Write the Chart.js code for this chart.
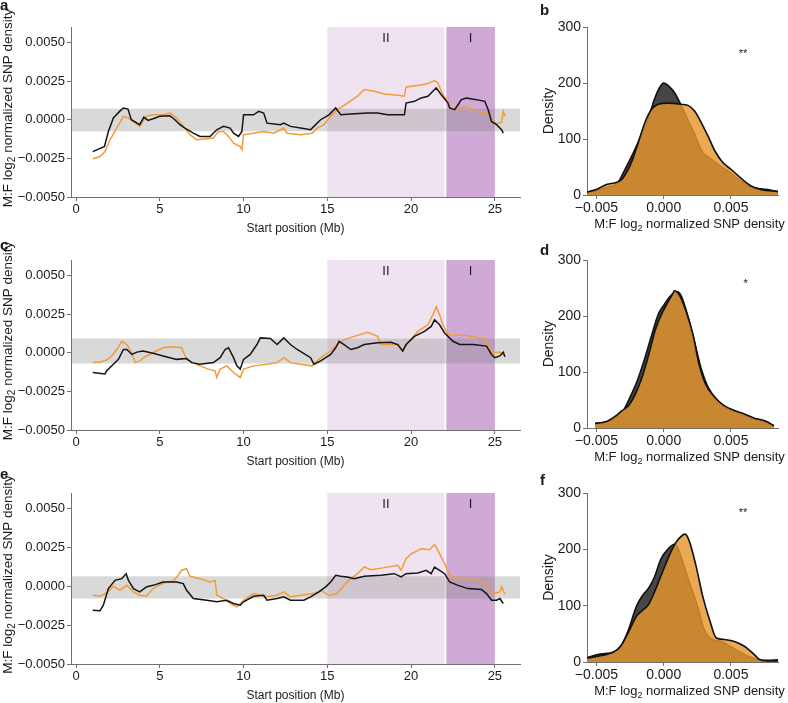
<!DOCTYPE html>
<html>
<head>
<meta charset="utf-8">
<script src="https://cdn.jsdelivr.net/npm/chart.js@4.4.1/dist/chart.umd.min.js"></script>
<style>
  body { margin: 0; background: #fff; width: 788px; height: 703px; position: relative; overflow: hidden; }
  canvas { position: absolute; }
</style>
</head>
<body>
<canvas id="chartA" width="530" height="236" style="left:0;top:0"></canvas>
<canvas id="chartC" width="530" height="236" style="left:0;top:233px"></canvas>
<canvas id="chartE" width="530" height="237" style="left:0;top:466px"></canvas>
<canvas id="chartB" width="258" height="236" style="left:530px;top:0"></canvas>
<canvas id="chartD" width="258" height="236" style="left:530px;top:233px"></canvas>
<canvas id="chartF" width="258" height="237" style="left:530px;top:466px"></canvas>
<script>
// ---- données ----
const xTicksTrack = [0, 5, 10, 15, 20, 25];
const yTicksTrack = [-0.005, -0.0025, 0, 0.0025, 0.005];
const xTicksDens = [-0.005, 0, 0.005];
const yTicksDens = [0, 100, 200, 300];

const regionStart = [15, 22.1];
const regionEnd = [22, 25];
const regionName = ['II', 'I'];

const bandA = [-0.00075, 0.00071];
const bandC = [-0.0007, 0.00092];
const bandE = [-0.00079, 0.00064];

// [début (Mb), log2 M:F]
const blackA = [[1.0,-0.00206],[1.7,-0.00173],[1.93,-0.00076],[2.23,0.00011],[2.6,0.00054],[2.83,0.00076],[3.1,0.00069],[3.3,0],[3.8,-0.00032],[4.05,0.00017],[4.3,-0.00004],[4.6,0.00006],[5.0,0.00022],[5.6,0.00026],[5.9,0],[6.2,-0.00032],[6.5,-0.00054],[7.0,-0.00087],[7.4,-0.00108],[8.0,-0.00108],[8.4,-0.00065],[8.8,-0.00043],[9.2,-0.00054],[9.4,-0.00087],[9.7,-0.00108],[9.9,-0.00076],[10.0,0.00032],[10.6,0.00032],[10.9,0.00054],[11.2,0.00043],[11.4,-0.00022],[12.2,-0.00032],[12.4,-0.00022],[12.8,-0.00043],[13.4,-0.00054],[14.0,-0.00065],[14.2,-0.00043],[14.6,0],[15.1,0.00032],[15.5,0.00076],[15.8,0.00032],[16.4,0.00037],[17.4,0.00043],[18.0,0.00043],[18.6,0.00032],[19.6,0.00032],[19.7,0.00108],[20.2,0.00119],[20.6,0.00141],[21.0,0.00152],[21.3,0.00184],[21.5,0.00206],[21.8,0.00162],[22.2,0.00108],[22.3,0.00076],[22.6,0.00065],[22.8,0.00097],[23.0,0.0013],[23.3,0.00141],[23.9,0.0013],[24.4,0.00119],[24.6,0.00065],[24.8,-0.00011],[25.1,-0.00032],[25.4,-0.00065],[25.5,-0.00087]];
const orangeA = [[1.0,-0.00253],[1.43,-0.00238],[1.73,-0.00206],[2.03,-0.0013],[2.43,-0.00054],[2.83,0.00022],[3.13,0.00011],[3.43,-0.00011],[3.8,-0.00043],[4.2,0.00022],[4.6,0.00032],[5.2,0.00032],[5.6,0.00043],[6.0,0.00011],[6.4,-0.00043],[6.8,-0.00097],[7.2,-0.0013],[8.2,-0.00119],[8.5,-0.00076],[8.8,-0.00076],[9.1,-0.00108],[9.4,-0.00152],[9.8,-0.00173],[9.9,-0.00195],[10.0,-0.00097],[10.6,-0.00087],[11.2,-0.00076],[11.8,-0.00087],[12.4,-0.00054],[12.6,-0.00087],[13.4,-0.00097],[14.1,-0.00087],[14.4,-0.00054],[14.8,-0.00032],[15.2,0.00022],[15.6,0.00065],[16.2,0.00108],[16.8,0.00152],[17.2,0.00195],[17.8,0.00184],[18.4,0.00167],[19.2,0.00158],[19.6,0.00152],[19.7,0.00212],[20.4,0.00221],[21.0,0.00234],[21.4,0.00253],[21.6,0.00238],[21.9,0.00162],[22.2,0.00119],[22.4,0.00065],[23.0,0.00076],[23.3,0.00082],[23.9,0.00054],[24.6,0.00043],[24.8,0],[25.1,-0.00026],[25.4,-0.00017],[25.5,0.00054],[25.6,0.00022]];

const blackC = [[1.0,-0.00128],[1.73,-0.00138],[1.83,-0.00117],[2.23,-0.00074],[2.53,-0.00043],[2.83,0.00021],[3.03,0.00021],[3.33,-0.00011],[3.63,0.00004],[4.0,0.00011],[4.6,-0.00004],[5.2,-0.00021],[6.0,-0.00043],[6.6,-0.00038],[6.9,-0.00064],[7.4,-0.00074],[8.2,-0.00064],[8.6,-0.00032],[8.9,0.00021],[9.1,0.00032],[9.4,-0.00032],[9.6,-0.00085],[9.8,-0.00106],[10.0,-0.00043],[10.4,-0.00011],[10.8,0.00053],[11.0,0.00096],[11.6,0.00092],[12.0,0.00053],[12.4,0.00096],[12.8,0.00053],[13.2,0.00021],[14.0,-0.00032],[14.2,-0.00074],[14.6,-0.00053],[15.2,-0.00011],[15.5,0.00032],[15.7,0.00074],[16.0,0.00053],[16.4,0.00021],[16.8,0.00032],[17.2,0.00053],[18.0,0.00064],[18.8,0.00068],[19.2,0.00053],[19.5,0.00011],[19.7,0.00053],[20.2,0.00106],[20.8,0.00138],[21.2,0.0017],[21.4,0.00213],[21.7,0.00181],[22.0,0.00128],[22.5,0.00074],[22.9,0.00053],[23.7,0.00053],[24.5,0.00043],[24.8,-0.00011],[25.0,-0.00032],[25.3,-0.00021],[25.5,0.00004],[25.6,-0.00026]];
const orangeC = [[1.0,-0.00064],[1.43,-0.0006],[1.83,-0.00047],[2.13,-0.00021],[2.43,0.00021],[2.73,0.00074],[3.03,0.00053],[3.33,0],[3.53,-0.00064],[3.8,-0.00053],[4.2,-0.00021],[4.6,0],[5.2,0.00032],[5.8,0.00038],[6.3,0.00032],[6.6,-0.00043],[7.0,-0.00064],[7.4,-0.00085],[7.9,-0.00106],[8.3,-0.00117],[8.4,-0.0016],[8.6,-0.00106],[9.0,-0.00085],[9.4,-0.00128],[9.8,-0.0016],[10.0,-0.00106],[10.6,-0.00085],[11.4,-0.00074],[12.0,-0.00064],[12.4,-0.00032],[12.8,-0.00064],[13.4,-0.00074],[14.1,-0.00085],[14.6,-0.00032],[15.2,0.00011],[15.6,0.00053],[16.0,0.00085],[16.6,0.00106],[17.4,0.00132],[18.0,0.00106],[18.2,0.00053],[19.2,0.00053],[19.5,0.00011],[19.8,0.00064],[20.4,0.00138],[21.0,0.00181],[21.3,0.00245],[21.5,0.00298],[21.7,0.00245],[21.9,0.00181],[22.2,0.00117],[23.3,0.00111],[24.1,0.00096],[24.5,0.00085],[24.7,0.00021],[24.9,0],[25.3,0.00004],[25.6,-0.00021]];

const blackE = [[1.0,-0.00154],[1.43,-0.00158],[1.63,-0.00122],[1.93,-0.00015],[2.33,0.00038],[2.73,0.00049],[2.99,0.00081],[3.13,0.00038],[3.43,-0.00015],[3.8,-0.00036],[4.2,-0.00004],[4.6,0.00006],[5.2,0.00028],[6.0,0.00028],[6.4,0.00017],[6.6,-0.00026],[7.0,-0.00079],[7.8,-0.0009],[8.4,-0.001],[9.0,-0.0009],[9.4,-0.00111],[9.8,-0.00122],[10.0,-0.001],[10.6,-0.00064],[11.2,-0.00058],[11.4,-0.0009],[12.0,-0.00079],[12.4,-0.00068],[12.8,-0.0009],[13.6,-0.0009],[14.0,-0.00068],[14.5,-0.00036],[14.9,-0.00004],[15.2,0.00028],[15.5,0.00071],[15.8,0.00064],[16.2,0.0006],[16.6,0.00049],[17.2,0.00064],[18.2,0.00071],[19.0,0.00081],[19.4,0.0006],[19.7,0.00081],[20.4,0.00085],[20.9,0.00103],[21.2,0.00081],[21.4,0.00124],[21.7,0.00103],[22.0,0.00081],[22.3,0.00028],[22.8,0.00006],[23.4,-0.00015],[24.2,-0.00021],[24.5,-0.00047],[24.8,-0.0009],[25.1,-0.0009],[25.3,-0.00079],[25.5,-0.00111]];
const orangeE = [[1.0,-0.00058],[1.43,-0.00064],[1.83,-0.00043],[2.23,0],[2.63,-0.00026],[3.03,0.00006],[3.43,-0.00036],[3.8,-0.00058],[4.2,-0.00064],[4.6,-0.00015],[5.2,0.00021],[5.8,0.00034],[6.1,0.00071],[6.3,0.00103],[6.6,0.00113],[6.8,0.00064],[7.4,0.00049],[8.0,0.00028],[8.3,0.00038],[8.4,-0.00058],[8.8,-0.00079],[9.2,-0.00111],[9.6,-0.00132],[10.0,-0.0009],[10.6,-0.00047],[11.4,-0.00068],[12.0,-0.00058],[12.4,-0.00036],[12.8,-0.00068],[13.4,-0.00058],[14.2,-0.00047],[14.6,-0.00026],[15.1,-0.00058],[15.6,-0.00047],[16.0,0.00006],[16.4,0.00049],[16.8,0.00081],[17.2,0.00124],[17.6,0.00107],[18.4,0.0012],[19.2,0.00135],[19.4,0.00103],[19.7,0.00177],[20.0,0.00209],[20.6,0.00241],[21.1,0.00235],[21.4,0.00269],[21.6,0.00231],[21.8,0.00188],[22.0,0.00145],[22.3,0.00071],[22.6,0.00049],[23.4,0.00045],[24.2,0.00038],[24.6,0.00006],[24.9,-0.00047],[25.3,-0.00036],[25.4,-0.00004],[25.6,-0.00051]];

// [log2 M:F, densité]
const densBlackB = [[-0.0057,5],[-0.0047,10],[-0.004,15],[-0.0034,22],[-0.003,40],[-0.0023,73],[-0.0017,105],[-0.0012,132],[-0.0007,170],[-0.0003,192],[0,200],[0.0004,194],[0.0008,183],[0.0012,165],[0.0016,144],[0.0022,114],[0.0029,76],[0.0035,65],[0.0042,52],[0.005,39],[0.0057,25],[0.0065,14],[0.0072,11],[0.0079,9],[0.0085,6]];
const densOrangeB = [[-0.0057,5],[-0.005,10],[-0.0042,19],[-0.0036,22],[-0.0031,28],[-0.0024,58],[-0.0019,93],[-0.0014,129],[-0.0009,153],[-0.0004,162],[0.0003,164],[0.0013,162],[0.0018,160],[0.0023,150],[0.0028,129],[0.0033,105],[0.0038,79],[0.0044,58],[0.005,46],[0.0057,31],[0.0065,16],[0.0072,10],[0.0082,7],[0.0085,6]];
const densBlackD = [[-0.0051,8],[-0.0042,11],[-0.0035,20],[-0.003,31],[-0.0025,55],[-0.002,82],[-0.0015,117],[-0.0009,165],[-0.0004,203],[0,219],[0.0004,233],[0.0008,242],[0.001,243],[0.0013,236],[0.0018,200],[0.0023,153],[0.0028,105],[0.0033,73],[0.0039,52],[0.0045,37],[0.0053,30],[0.006,22],[0.0067,17],[0.0074,12],[0.0082,4]];
const densOrangeD = [[-0.0051,8],[-0.0042,12],[-0.0036,21],[-0.0031,31],[-0.0026,40],[-0.0021,61],[-0.0016,91],[-0.0011,132],[-0.0006,177],[-0.0001,206],[0.0003,224],[0.0007,241],[0.0008,245],[0.0012,236],[0.0017,206],[0.0022,165],[0.0026,117],[0.0031,79],[0.0038,55],[0.0045,40],[0.0053,31],[0.006,25],[0.0067,18],[0.0076,12],[0.0082,4]];
const densBlackF = [[-0.0057,8],[-0.0047,14],[-0.0037,18],[-0.0032,28],[-0.0027,52],[-0.002,100],[-0.0016,117],[-0.0011,132],[-0.0007,150],[-0.0002,183],[0.0003,200],[0.0008,209],[0.001,205],[0.0015,171],[0.002,135],[0.0025,100],[0.003,58],[0.0036,40],[0.0042,37],[0.0047,31],[0.0055,20],[0.0062,11],[0.007,4],[0.0077,3],[0.0085,4]];
const densOrangeF = [[-0.0057,7],[-0.0047,11],[-0.0037,18],[-0.0032,28],[-0.0027,49],[-0.002,82],[-0.0016,91],[-0.0011,103],[-0.0006,129],[-0.0001,159],[0.0004,188],[0.0009,212],[0.0014,225],[0.0016,227],[0.0019,215],[0.0024,171],[0.0029,117],[0.0034,76],[0.0039,43],[0.0045,40],[0.0052,37],[0.006,28],[0.0067,14],[0.0071,5],[0.0077,2],[0.0085,2]];

const starText = ['**', '*', '**'];
const starX = [0.0059, 0.0061, 0.0059];
const starY = [255, 260, 268];

// ---- style ----
const FAMILY = '"Liberation Sans", Arial, Helvetica, sans-serif';
const AXIS = '#707070';
const TEXT = '#1a1a1a';
const REGION_FILL = ['#efe3f1', '#cfaad6'];

function minusFmt(v, d) {
    return (v < 0 ? '\u2212' : '') + Math.abs(v).toFixed(d);
}

// titre avec indice "2" (log2)
function drawLogTitle(ctx, x, y, rotated, size) {
    const pre = 'M:F log', sub = '2', post = ' normalized SNP density';
    ctx.save();
    ctx.translate(x, y);
    if (rotated) ctx.rotate(-Math.PI / 2);
    ctx.fillStyle = TEXT;
    ctx.textBaseline = 'middle';
    ctx.textAlign = 'left';
    const big = size + 'px ' + FAMILY;
    const small = Math.round(size * 0.72) + 'px ' + FAMILY;
    ctx.font = big;
    const w1 = ctx.measureText(pre).width, w3 = ctx.measureText(post).width;
    ctx.font = small;
    const w2 = ctx.measureText(sub).width;
    let cx = -(w1 + w2 + w3) / 2;
    ctx.font = big; ctx.fillText(pre, cx, 0); cx += w1;
    ctx.font = small; ctx.fillText(sub, cx, size * 0.32); cx += w2;
    ctx.font = big; ctx.fillText(post, cx, 0);
    ctx.restore();
}

function drawText(ctx, txt, x, y, font, align) {
    ctx.save();
    ctx.font = font;
    ctx.fillStyle = TEXT;
    ctx.textAlign = align || 'center';
    ctx.textBaseline = 'alphabetic';
    ctx.fillText(txt, x, y);
    ctx.restore();
}

const trackPlugin = {
    id: 'track',
    beforeDatasetsDraw(chart, args, opts) {
        const { ctx, chartArea: a, scales: { x, y } } = chart;
        ctx.save();
        regionStart.forEach((s, i) => {
            const x0 = x.getPixelForValue(s), x1 = x.getPixelForValue(regionEnd[i]);
            ctx.fillStyle = REGION_FILL[i];
            ctx.fillRect(x0, a.top, x1 - x0, a.bottom - a.top);
        });
        const yTop = y.getPixelForValue(opts.band[1]), yBot = y.getPixelForValue(opts.band[0]);
        ctx.fillStyle = 'rgba(128,128,128,0.3)';
        ctx.fillRect(a.left, yTop, a.right - a.left, yBot - yTop);
        ctx.restore();
    },
    afterDraw(chart, args, opts) {
        const { ctx, chartArea: a, scales: { x } } = chart;
        regionName.forEach((n, i) => {
            const cx = x.getPixelForValue((regionStart[i] + regionEnd[i]) / 2);
            drawText(ctx, n, cx, a.top + 15, '13px ' + FAMILY);
        });
        drawText(ctx, 'Start position (Mb)', (a.left + a.right) / 2, a.bottom + 35, '12px ' + FAMILY);
        drawLogTitle(ctx, a.left - 63, (a.top + a.bottom) / 2 - 4, true, 13.5);
        drawText(ctx, opts.letter, 0, opts.letterY, 'bold 15px ' + FAMILY, 'left');
    }
};

const densPlugin = {
    id: 'dens',
    afterDraw(chart, args, opts) {
        const { ctx, chartArea: a, scales: { x, y } } = chart;
        const i = opts.idx;
        drawText(ctx, starText[i], x.getPixelForValue(starX[i]), y.getPixelForValue(starY[i]) + 5, '11px ' + FAMILY);
        drawLogTitle(ctx, (a.left + a.right) / 2 + 7, a.bottom + 29, false, 13);
        ctx.save();
        ctx.translate(a.left - 39, (a.top + a.bottom) / 2);
        ctx.rotate(-Math.PI / 2);
        drawText(ctx, 'Density', 0, 5, '14px ' + FAMILY);
        ctx.restore();
        drawText(ctx, opts.letter, 10, opts.letterY, 'bold 15px ' + FAMILY, 'left');
    }
};

function axisStyle(size) {
    return {
        grid: { drawOnChartArea: false, tickLength: 4, color: AXIS, lineWidth: 1 },
        border: { color: AXIS, width: 1 },
        ticks: { font: { family: FAMILY, size: size }, color: TEXT, maxRotation: 0, autoSkip: false }
    };
}

function toXY(arr) {
    return arr.map(p => ({ x: p[0], y: p[1] }));
}

function makeTrack(id, black, orange, band, letter, letterY) {
    const xs = axisStyle(13), ys = axisStyle(13);
    xs.ticks.padding = 1;
    ys.ticks.padding = 2;
    ys.ticks.callback = v => minusFmt(v, 4);
    return new Chart(document.getElementById(id), {
        type: 'line',
        data: {
            datasets: [
                { data: toXY(black), borderColor: '#151515', borderWidth: 1.5, pointRadius: 0, tension: 0 },
                { data: toXY(orange), borderColor: '#f29c38', borderWidth: 1.5, pointRadius: 0, tension: 0 }
            ]
        },
        options: {
            responsive: false, animation: false, events: [],
            layout: { padding: { top: 27, right: 10, left: 0, bottom: 0 } },
            plugins: { legend: { display: false }, tooltip: { enabled: false }, track: { band, letter, letterY } },
            scales: {
                x: Object.assign(xs, {
                    type: 'linear', min: -0.3, max: 26.5,
                    afterBuildTicks: s => { s.ticks = xTicksTrack.map(v => ({ value: v })); },
                    afterFit: s => { s.height = 39; }
                }),
                y: Object.assign(ys, {
                    type: 'linear', min: -0.005, max: 0.006,
                    afterBuildTicks: s => { s.ticks = yTicksTrack.map(v => ({ value: v })); },
                    afterFit: s => { s.width = 71; }
                })
            }
        },
        plugins: [trackPlugin]
    });
}

function makeDens(id, black, orange, idx, letter, letterY) {
    const xs = axisStyle(14), ys = axisStyle(14);
    xs.ticks.padding = 1;
    xs.ticks.callback = v => minusFmt(v, 3);
    ys.ticks.padding = 2;
    return new Chart(document.getElementById(id), {
        type: 'line',
        data: {
            datasets: [
                { data: toXY(orange), borderColor: '#111', borderWidth: 1.6, backgroundColor: 'rgba(230,150,46,0.82)',
                  fill: 'origin', pointRadius: 0, cubicInterpolationMode: 'monotone' },
                { data: toXY(black), borderColor: '#111', borderWidth: 1.6, backgroundColor: 'rgba(60,60,60,0.95)',
                  fill: 'origin', pointRadius: 0, cubicInterpolationMode: 'monotone' }
            ]
        },
        options: {
            responsive: false, animation: false, events: [],
            layout: { padding: { top: 27, right: 10, left: 0, bottom: 0 } },
            plugins: { legend: { display: false }, tooltip: { enabled: false }, dens: { idx, letter, letterY } },
            scales: {
                x: Object.assign(xs, {
                    type: 'linear', min: -0.0057, max: 0.0085,
                    afterBuildTicks: s => { s.ticks = xTicksDens.map(v => ({ value: v })); },
                    afterFit: s => { s.height = 41; }
                }),
                y: Object.assign(ys, {
                    type: 'linear', min: 0, max: 300,
                    afterBuildTicks: s => { s.ticks = yTicksDens.map(v => ({ value: v })); },
                    afterFit: s => { s.width = 57; }
                })
            }
        },
        plugins: [densPlugin]
    });
}

makeTrack('chartA', blackA, orangeA, bandA, 'a', 10);
makeTrack('chartC', blackC, orangeC, bandC, 'c', 17);
makeTrack('chartE', blackE, orangeE, bandE, 'e', 13);

makeDens('chartB', densBlackB, densOrangeB, 0, 'b', 15);
makeDens('chartD', densBlackD, densOrangeD, 1, 'd', 22);
makeDens('chartF', densBlackF, densOrangeF, 2, 'f', 19);
</script>
</body>
</html>
